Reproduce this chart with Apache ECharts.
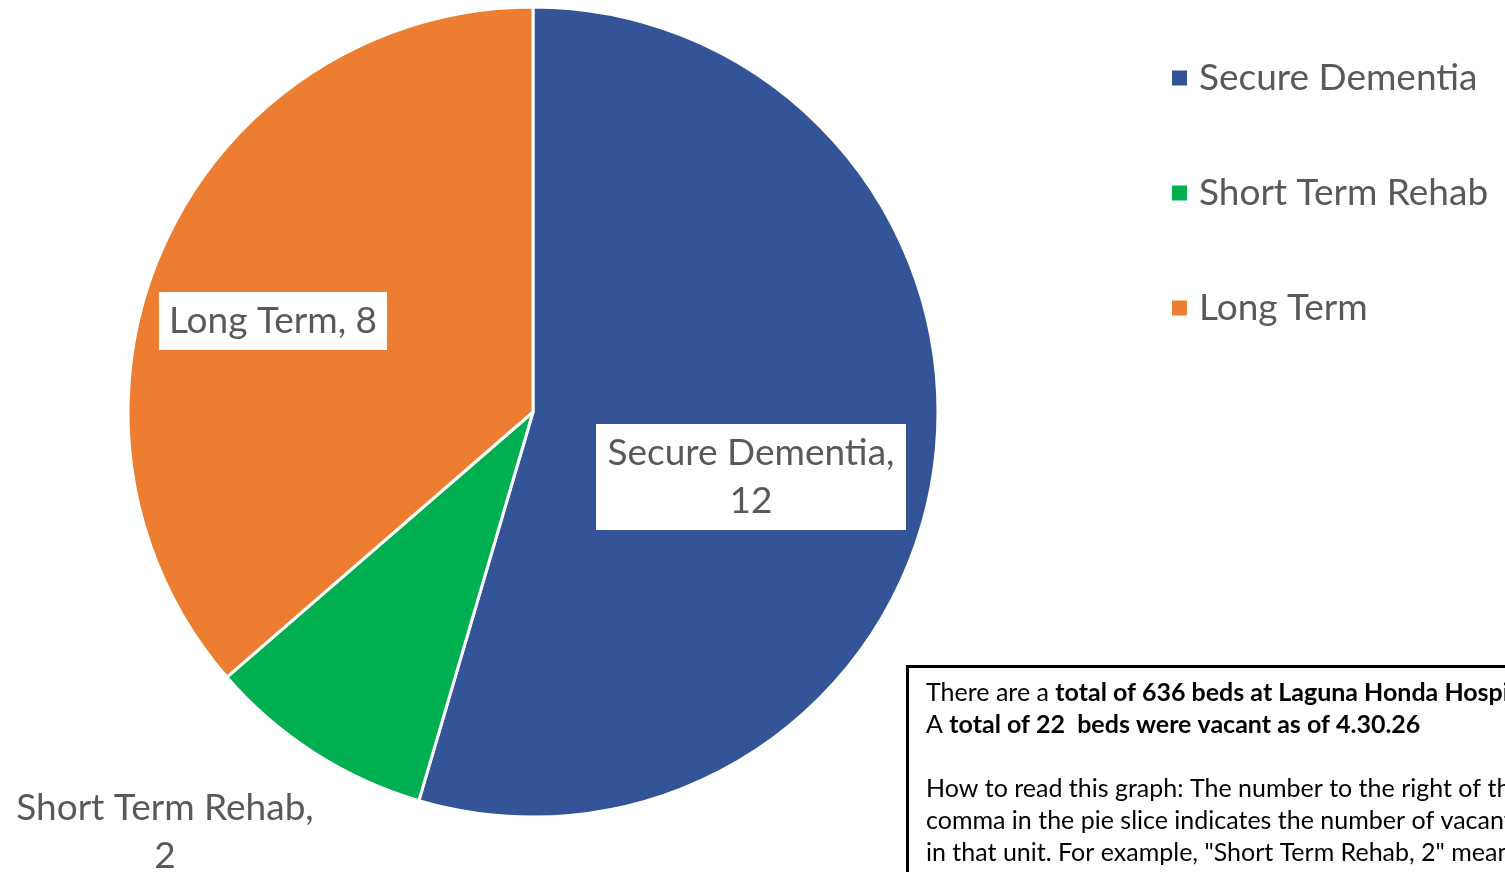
<!DOCTYPE html>
<html><head><meta charset="utf-8">
<script src="https://cdn.jsdelivr.net/npm/echarts@6/dist/echarts.min.js"></script>
<style>html,body{margin:0;padding:0;background:#fff}#c{width:1505px;height:872px}</style>
</head><body><div id="c"></div>
<script>
const categories = ['Secure Dementia', 'Short Term Rehab', 'Long Term'];
const vacantBeds = [12, 2, 8];
const colors = ['#335598', '#00B050', '#ED7D31'];
const noteLines = [
  '{n|There are a }{b|total of 636 beds at Laguna Honda Hospital.}',
  '{n|A }{b|total of 22  beds were vacant as of 4.30.26}',
  '{n| }',
  '{n|How to read this graph: The number to the right of the}',
  '{n|comma in the pie slice indicates the number of vacant beds}',
  '{n|in that unit. For example, "Short Term Rehab, 2" means}'
];
const labelPos = [[751, 477], [165, 832], [273, 321]];

const chart = echarts.init(document.getElementById('c'));
const fontFam = 'Lato, "Open Sans", sans-serif';
chart.setOption({
  animation: false,
  color: colors,
  legend: {
    orient: 'vertical', left: 1170, top: 56, padding: 0,
    itemWidth: 17, itemHeight: 17, itemGap: 71, icon: 'rect',
    textStyle: { fontFamily: fontFam, fontSize: 37, color: '#595959', lineHeight: 44, padding: [0,0,0,6] },
    data: categories
  },
  series: [{
    type: 'pie',
    center: [533, 412], radius: 405,
    startAngle: 90, clockwise: true,
    itemStyle: { borderColor: '#fff', borderWidth: 3 },
    labelLine: { show: false },
    label: {
      show: true, position: 'inside',
      fontFamily: fontFam, fontSize: 37, color: '#595959', lineHeight: 48,
      formatter: p => p.dataIndex === 2 ? p.name + ', ' + p.value : p.name + ',\n' + p.value
    },
    labelLayout: p => ({ x: labelPos[p.dataIndex][0], y: labelPos[p.dataIndex][1], align: 'center', verticalAlign: 'middle' }),
    data: categories.map((c, i) => ({
      name: c, value: vacantBeds[i],
      label: i === 0 ? { backgroundColor: '#fff', padding: [5, 10, 5, 10], width: 290 } :
             i === 2 ? { backgroundColor: '#fff', padding: [5, 10, 5, 10], lineHeight: 48 } : {}
    }))
  }],
  graphic: [{
    type: 'rect', left: 906, top: 665,
    shape: { width: 700, height: 300 },
    style: { fill: '#fff', stroke: '#000', lineWidth: 3 }
  }, {
    type: 'text', left: 926, top: 680,
    style: {
      text: noteLines.join('\n'),
      rich: {
        n: { fontFamily: fontFam, fontSize: 25, color: '#000', lineHeight: 32 },
        b: { fontFamily: fontFam, fontSize: 25, fontWeight: 'bold', color: '#000', lineHeight: 32 }
      }
    }
  }]
});
</script></body></html>
